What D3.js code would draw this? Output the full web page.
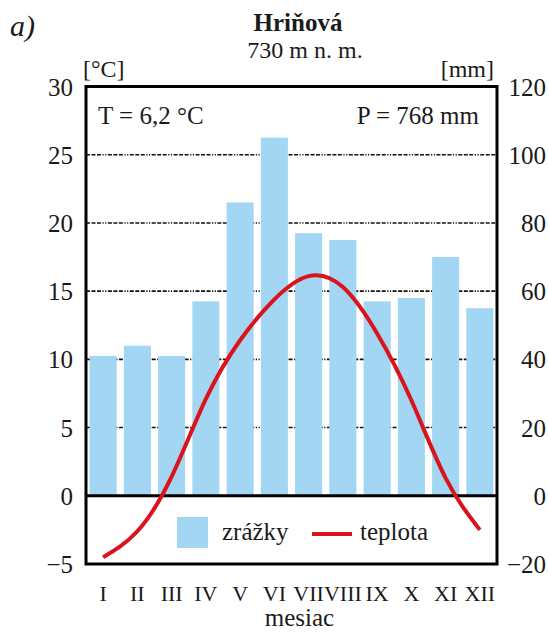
<!DOCTYPE html>
<html>
<head>
<meta charset="utf-8">
<script src="https://cdn.jsdelivr.net/npm/d3@7"></script>
</head>
<body style="margin:0; background:#fff">
<div id="chart"></div>
<script>
    // data

    const months = ["I", "II", "III", "IV", "V", "VI", "VII", "VIII", "IX", "X", "XI", "XII"]
    const precipitation = [41, 44, 41, 57, 86, 105, 77, 75, 57, 58, 70, 55]   // mm
    const temperature = [-4.5, -2.6, 1.4, 7.1, 11.4, 14.4, 16.1, 15.3, 11.9, 7.0, 1.3, -2.5] // °C
    const tempTicks = [-5, 0, 5, 10, 15, 20, 25, 30]
    const precTicks = [-20, 0, 20, 40, 60, 80, 100, 120]
    const gridTicks = [5, 10, 15, 20, 25]

    const width = 548
    const height = 633
    const plotLeft = 86, plotRight = 497, plotTop = 86.5, plotBottom = 564

    const blue = "#a2d6f3"
    const red = "#d9141c"
    const ink = "#1a1a1a"
    const serif = "Liberation Serif"

    // scales

    const xScale = d3.scaleBand()
        .domain(months)
        .range([plotLeft, plotRight])
        .paddingInner(0.21)
        .paddingOuter(0.105)

    const yTemp = d3.scaleLinear()
        .domain([-5, 30])
        .range([plotBottom, plotTop])

    const yPrec = d3.scaleLinear()
        .domain([-20, 120])
        .range([plotBottom, plotTop])

    const svg = d3.select("#chart")
        .append("svg")
        .attr("width", width)
        .attr("height", height)
        .attr("font-family", serif)

    // small helper for plain labels
    function label(x, y, txt, size, anchor) {
        return svg.append("text")
            .attr("x", x)
            .attr("y", y)
            .attr("text-anchor", anchor || "start")
            .attr("font-size", size)
            .attr("font-family", serif)
            .attr("fill", ink)
            .text(txt)
    }

    // grid lines (dash-dot-dot), under the bars

    svg.selectAll("line.grid")
        .data(gridTicks)
        .join("line")
        .attr("class", "grid")
        .attr("x1", plotLeft)
        .attr("x2", plotRight)
        .attr("y1", d => yTemp(d))
        .attr("y2", d => yTemp(d))
        .attr("stroke", "#111")
        .attr("stroke-width", 1.6)
        .attr("stroke-dasharray", "4,1.5,4,1.5,4,1.5,1.2,1.5,1.2,1.5")

    // bars

    svg.selectAll("rect.bar")
        .data(precipitation)
        .join("rect")
        .attr("class", "bar")
        .attr("x", (d, i) => xScale(months[i]))
        .attr("width", xScale.bandwidth())
        .attr("y", d => yPrec(d))
        .attr("height", d => yPrec(0) - yPrec(d))
        .attr("fill", blue)

    // zero line

    svg.append("line")
        .attr("x1", plotLeft)
        .attr("x2", plotRight)
        .attr("y1", yTemp(0))
        .attr("y2", yTemp(0))
        .attr("stroke", "#000")
        .attr("stroke-width", 3)

    // temperature curve

    const line = d3.line()
        .x((d, i) => xScale(months[i]) + xScale.bandwidth() / 2)
        .y(d => yTemp(d))
        .curve(d3.curveNatural)

    svg.append("path")
        .datum(temperature)
        .attr("d", line)
        .attr("fill", "none")
        .attr("stroke", red)
        .attr("stroke-width", 4)

    // frame

    svg.append("rect")
        .attr("x", plotLeft)
        .attr("y", plotTop)
        .attr("width", plotRight - plotLeft)
        .attr("height", plotBottom - plotTop)
        .attr("fill", "none")
        .attr("stroke", "#000")
        .attr("stroke-width", 3)

    // axes

    const leftAxis = svg.append("g")
        .attr("transform", `translate(${plotLeft},0)`)
        .call(d3.axisLeft(yTemp).tickValues(tempTicks).tickSize(0).tickPadding(13))
    const rightAxis = svg.append("g")
        .attr("transform", `translate(${plotRight},0)`)
        .call(d3.axisRight(yPrec).tickValues(precTicks).tickSize(0))

    svg.selectAll(".domain").remove()
    leftAxis.attr("font-family", serif)
    rightAxis.attr("font-family", serif)
    leftAxis.selectAll("text")
        .attr("font-size", 25)
        .attr("dy", "0.34em")
        .attr("fill", ink)
    rightAxis.selectAll("text")
        .attr("font-size", 25)
        .attr("dy", "0.34em")
        .attr("x", 49)
        .attr("text-anchor", "end")
        .attr("fill", ink)

    // month labels

    svg.selectAll("text.month")
        .data(months)
        .join("text")
        .attr("class", "month")
        .attr("x", d => xScale(d) + xScale.bandwidth() / 2)
        .attr("y", 601)
        .attr("text-anchor", "middle")
        .attr("font-size", 22)
        .attr("font-family", serif)
        .attr("fill", ink)
        .text(d => d)

    label((plotLeft + plotRight) / 2 + 8, 626, "mesiac", 25, "middle")

    // titles and units

    label(10, 36, "a)", 30).attr("font-style", "italic")
    label(298, 31, "Hriňová", 25, "middle").attr("font-weight", "bold")
    label(305, 58, "730 m n. m.", 24, "middle")
    label(83, 77, "[°C]", 24)
    label(494, 77, "[mm]", 24, "end")
    label(98, 124, "T = 6,2 °C", 25)
    label(479, 124, "P = 768 mm", 25, "end")

    // legend

    svg.append("rect")
        .attr("x", 177)
        .attr("y", 517)
        .attr("width", 31)
        .attr("height", 31)
        .attr("fill", blue)

    label(222, 540, "zrážky", 25)

    svg.append("line")
        .attr("x1", 312)
        .attr("x2", 352)
        .attr("y1", 534)
        .attr("y2", 534)
        .attr("stroke", red)
        .attr("stroke-width", 4)

    label(360, 540, "teplota", 25)
</script>
</body>
</html>
